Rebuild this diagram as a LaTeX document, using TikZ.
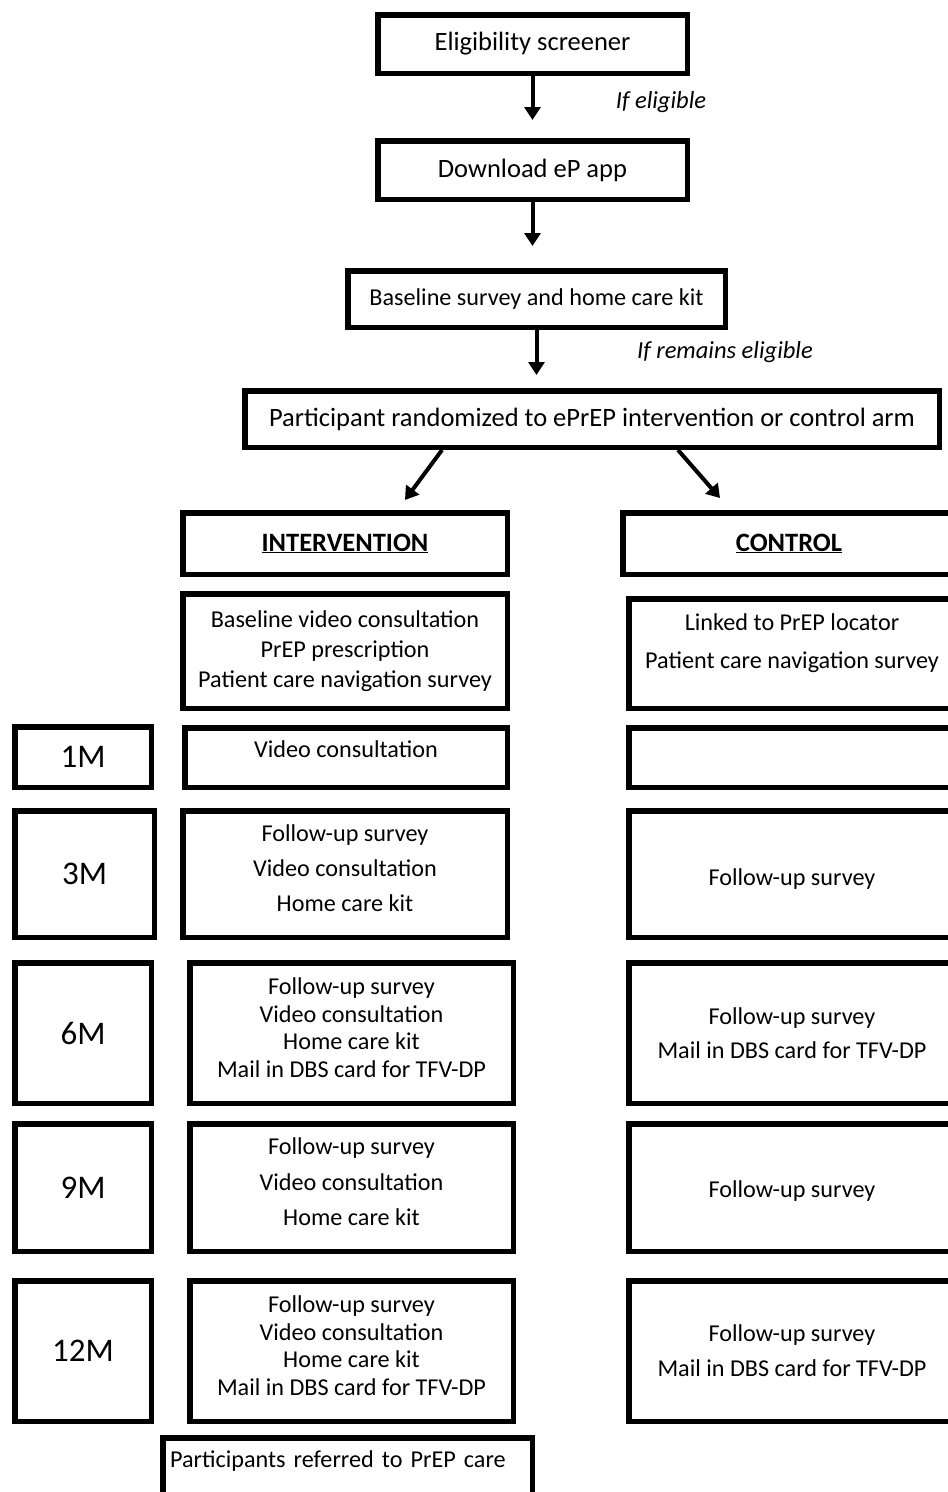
\documentclass[tikz,border=0pt]{standalone}
\usepackage{fontspec}
\setmainfont{Carlito}
\usetikzlibrary{arrows.meta}

\begin{document}
\begin{tikzpicture}[x=1pt,y=-1pt,
    box/.style={draw, line width=5.5pt, rectangle, align=center, inner sep=0pt, font=\fontsize{24.2}{27.7}\selectfont},
    big/.style={font=\fontsize{26.5}{28}\selectfont},
    mbox/.style={box, minimum width=136.5pt, font=\fontsize{33}{36}\selectfont},
    ibox/.style={box, minimum width=323.5pt, text depth=11pt},
    cbox/.style={box, minimum width=326.5pt},
    arr/.style={-{Triangle[length=13pt,width=16pt]}, line width=4pt},
    note/.style={font=\fontsize{24.5}{28}\selectfont\itshape}]
  \clip (0,0) rectangle (948,1492);

  % screening
  \node[box, big, minimum width=309.5pt, minimum height=58.5pt] (elig) at (532.5,44) {Eligibility screener};
  \node[box, big, minimum width=309.5pt, minimum height=58.5pt] (app) at (532.5,170) {Download eP app};
  \node[box, minimum width=377.5pt, minimum height=56.5pt] (basekit) at (536.5,299) {Baseline survey and home care kit};
  \node[box, big, minimum width=694.5pt, minimum height=56.5pt] (rand) at (592,419) {Participant randomized to ePrEP intervention or control arm};
  \node[note] (ifelig) at (661,102) {If eligible};
  \node[note] (ifremain) at (725,352) {If remains eligible};

  % arms
  \node[box, big, minimum width=324.5pt, minimum height=61.5pt] (interv) at (345,543.5) {\underline{\textbf{INTERVENTION}}};
  \node[box, big, minimum width=332.5pt, minimum height=61.5pt] (contr) at (789,543.5) {\underline{\textbf{CONTROL}}};
  \node[box, minimum width=324.5pt, minimum height=114.5pt] (ibase) at (345,651) {Baseline video consultation\\[2.3pt]PrEP prescription\\[2.3pt]Patient care navigation survey};
  \node[cbox, minimum height=109.5pt, text depth=25pt] (cbase) at (792,653.5) {Linked to PrEP locator\\[10.3pt]Patient care navigation survey};

  % follow-up visits
  \node[mbox, minimum height=60.5pt] (m1) at (83,757) {1M};
  \node[box, minimum width=322.5pt, minimum height=59.5pt, text depth=16pt] (i1) at (346,757.5) {Video consultation};
  \node[cbox, minimum height=59.5pt] (c1) at (792,757.5) {};

  \node[mbox, minimum width=139.5pt, minimum height=126.5pt] (m3) at (84.5,874) {3M};
  \node[ibox, minimum width=324.5pt, minimum height=126.5pt] (i3) at (345,874) {Follow-up survey\\[7.3pt]Video consultation\\[7.3pt]Home care kit};
  \node[cbox, minimum height=126.5pt, text height=26pt] (c3) at (792,874) {Follow-up survey};

  \node[mbox, minimum height=140.5pt] (m6) at (83,1033) {6M};
  \node[ibox, minimum height=140.5pt] (i6) at (351.5,1033) {Follow-up survey\\Video consultation\\Home care kit\\Mail in DBS card for TFV-DP};
  \node[cbox, minimum height=140.5pt] (c6) at (792,1033) {Follow-up survey\\[6.3pt]Mail in DBS card for TFV-DP};

  \node[mbox, minimum height=127.5pt] (m9) at (83,1187.5) {9M};
  \node[ibox, minimum height=127.5pt] (i9) at (351.5,1187.5) {Follow-up survey\\[7.8pt]Video consultation\\[7.8pt]Home care kit};
  \node[cbox, minimum height=127.5pt, text height=24pt] (c9) at (792,1187.5) {Follow-up survey};

  \node[mbox, minimum height=140.5pt] (m12) at (83,1351) {12M};
  \node[ibox, minimum height=140.5pt] (i12) at (351.5,1351) {Follow-up survey\\Video consultation\\Home care kit\\Mail in DBS card for TFV-DP};
  \node[cbox, minimum height=140.5pt] (c12) at (792,1351) {Follow-up survey\\[7.3pt]Mail in DBS card for TFV-DP};

  \node[box, minimum width=369.5pt, minimum height=59.5pt, text width=355pt, align=left, text depth=17.5pt] (refer) at (347.5,1467.5) {\mbox{Participants referred to PrEP care}\hfill};

  % arrows
  \draw[arr, shorten >=18pt] (elig) -- (app);
  \draw[arr, shorten >=22pt] (app) -- (app |- basekit.north);
  \draw[arr, shorten >=13pt] (basekit) -- (basekit |- rand.north);
  \draw[arr] ([xshift=-150pt]rand.south) -- ([xshift=60pt,yshift=10pt]interv.north);
  \draw[arr] ([xshift=86pt]rand.south) -- ([xshift=-69pt,yshift=12pt]contr.north);
\end{tikzpicture}
\end{document}
